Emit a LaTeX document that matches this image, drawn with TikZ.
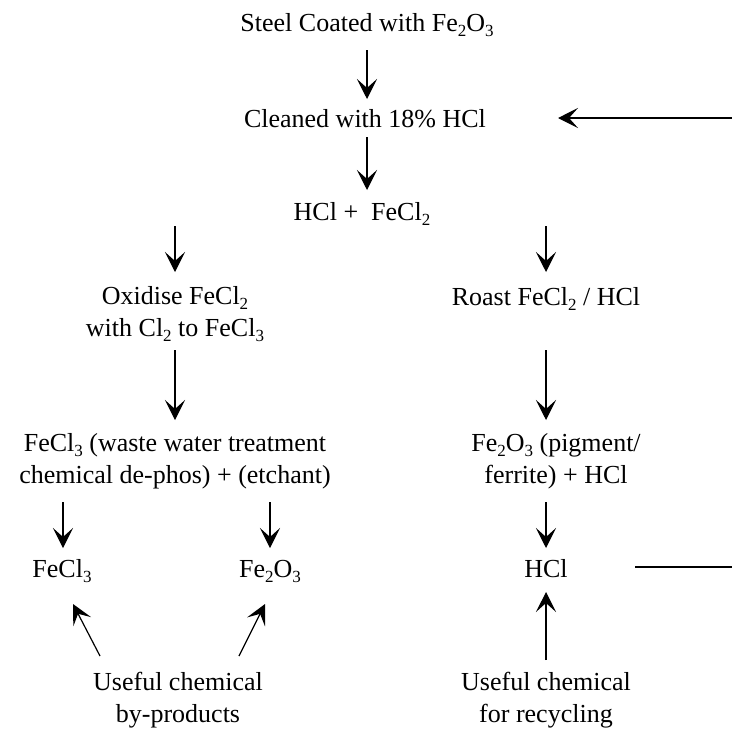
\documentclass[tikz,border=0pt]{standalone}
\usepackage{fontspec}
\setmainfont{Liberation Serif}
\usetikzlibrary{arrows.meta}
\newcommand{\sbs}[1]{\raisebox{-5.5pt}{\fontsize{17}{17}\selectfont #1}}
\begin{document}
\begin{tikzpicture}[x=1pt,y=-1pt,
  lbl/.style={font=\fontsize{26}{32}\selectfont, inner sep=0pt, anchor=base, align=center},
  arr/.style={line width=1.2pt, -{Stealth[length=20pt,width=20pt,inset=9pt]}},
  ln/.style={line width=1.2pt}]
\useasboundingbox[fill=white] (0,0) rectangle (732,731);
% text nodes (base = baseline of last line)
\node[lbl] (steel) at (367,31) {Steel Coated with Fe\sbs{2}O\sbs{3}};
\node[lbl] (clean) at (365,127) {Cleaned with 18\% HCl};
\node[lbl] (mix) at (362,220) {HCl + \ FeCl\sbs{2}};
\node[lbl] (oxid) at (175,336) {Oxidise FeCl\sbs{2}\\with Cl\sbs{2} to FeCl\sbs{3}};
\node[lbl] (roast) at (546,305) {Roast FeCl\sbs{2} / HCl};
\node[lbl] (fecl3w) at (175,483) {FeCl\sbs{3} (waste water treatment\\chemical de-phos) + (etchant)};
\node[lbl] (pig) at (556,483) {Fe\sbs{2}O\sbs{3} (pigment/\\ferrite) + HCl};
\node[lbl] (fecl3) at (62,577) {FeCl\sbs{3}};
\node[lbl] (fe2o3) at (270,577) {Fe\sbs{2}O\sbs{3}};
\node[lbl] (hcl) at (546,577) {HCl};
\node[lbl] (usef1) at (178,722) {Useful chemical\\by-products};
\node[lbl] (usef2) at (546,722) {Useful chemical\\for recycling};
\coordinate (edgeA) at (732,118);
\coordinate (edgeB) at (732,567);
% arrows
\draw[arr] ([yshift=-19pt]steel.base) -- ([yshift=28pt]steel.base |- clean.base);
\draw[arr] ([yshift=-10pt]steel.base |- clean.base) -- ([yshift=30pt]steel.base |- mix.base);
\draw[arr] ([yshift=-6pt]oxid.base |- mix.base) -- ([yshift=64pt]oxid.base);
\draw[arr] ([yshift=-6pt]roast.base |- mix.base) -- ([yshift=33pt]roast.base);
\draw[arr] ([yshift=-14pt]oxid.base) -- ([yshift=63pt]oxid.base |- fecl3w.base);
\draw[arr] ([yshift=-45pt]roast.base) -- ([yshift=63pt]roast.base |- pig.base);
\draw[arr] ([xshift=1pt,yshift=-19pt]fecl3.base |- fecl3w.base) -- ([xshift=1pt,yshift=29pt]fecl3.base);
\draw[arr] ([yshift=-19pt]fe2o3.base |- fecl3w.base) -- ([yshift=29pt]fe2o3.base);
\draw[arr] ([yshift=-19pt]hcl.base |- pig.base) -- ([yshift=29pt]hcl.base);
\draw[arr] ([xshift=-78pt,yshift=66pt]usef1.base) -- ([xshift=11pt,yshift=-27pt]fecl3.base);
\draw[arr] ([xshift=61pt,yshift=66pt]usef1.base) -- ([xshift=-5pt,yshift=-27pt]fe2o3.base);
\draw[arr] ([yshift=62pt]usef2.base) -- ([yshift=-15pt]hcl.base);
\draw[ln] ([xshift=89pt,yshift=10pt]hcl.base) -- (edgeB);
\draw[arr] (edgeA) -- ([xshift=193pt,yshift=9pt]clean.base);
\end{tikzpicture}
\end{document}
